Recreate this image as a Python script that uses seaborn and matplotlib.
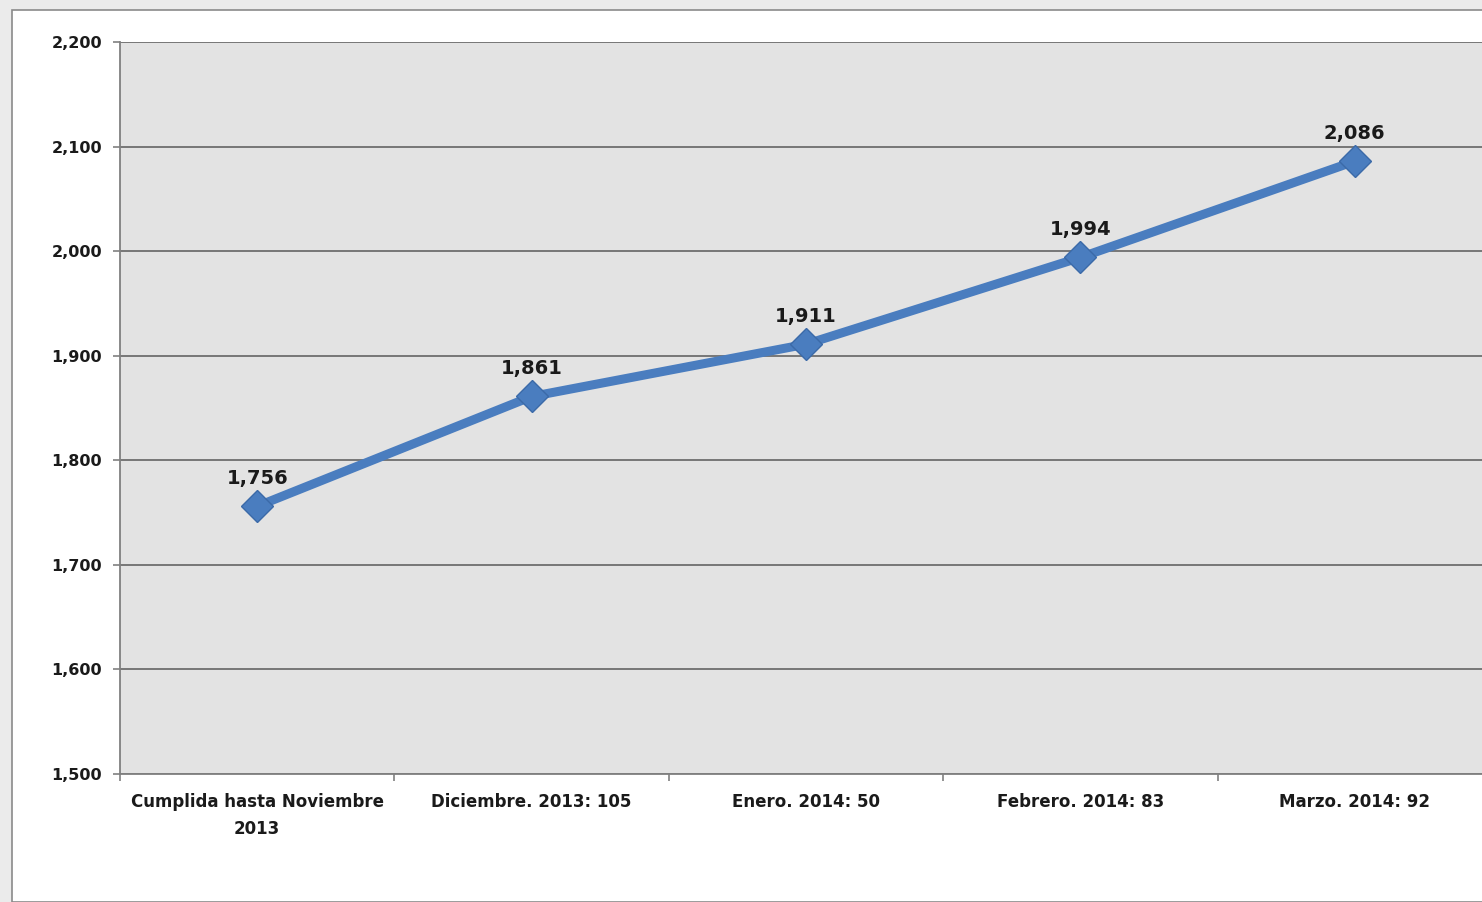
import matplotlib
matplotlib.use("Agg")
import matplotlib.pyplot as plt
from matplotlib.patches import Rectangle
from matplotlib.ticker import FixedLocator, FuncFormatter
import seaborn as sns
import pandas as pd

categories = [
    "Cumplida hasta Noviembre\n2013",
    "Diciembre. 2013: 105",
    "Enero. 2014: 50",
    "Febrero. 2014: 83",
    "Marzo. 2014: 92",
]
values = [1756, 1861, 1911, 1994, 2086]
y_ticks = [1500, 1600, 1700, 1800, 1900, 2000, 2100, 2200]

sns.set_theme(style="white")
plt.rcParams["font.family"] = ["DejaVu Sans"]

W, H = 1482, 902
fig = plt.figure(figsize=(W / 100, H / 100), dpi=100)
fig.patch.set_facecolor("#ebebeb")
fig.patches.append(Rectangle((12 / W, 0), 1, (H - 10) / H, transform=fig.transFigure,
                             facecolor="white", edgecolor="#8a8a8a", linewidth=1.2, zorder=-10))

ax = fig.add_axes([120 / W, 128 / H, (1492 - 120) / W, (774 - 42) / H])
ax.set_zorder(5)
ax.set_facecolor("#e3e3e3")

df = pd.DataFrame({"cat": categories, "val": values})
x = list(range(len(categories)))
sns.lineplot(x=x, y=df["val"], ax=ax, color="#4a7dbf", linewidth=6.5, marker="D",
             markersize=16, markeredgecolor="#3b6aa8", markeredgewidth=1, markerfacecolor="#4a7dbf",
             sort=False)

for xi, v in zip(x, values):
    ax.annotate(f"{v:,}", (xi, v), xytext=(0, 16), textcoords="offset points",
                ha="center", va="baseline", fontsize=14, fontweight="bold", color="#1a1a1a")

ax.set_xlim(-0.5, len(categories) - 0.5)
ax.set_ylim(1500, 2200)
ax.set_yticks(y_ticks)
ax.yaxis.set_major_formatter(FuncFormatter(lambda v, p: f"{int(v):,}"))
ax.set_xticks(x)
ax.set_xticklabels(categories, linespacing=1.6)
ax.xaxis.set_minor_locator(FixedLocator([i + 0.5 for i in range(-1, len(categories))]))
ax.tick_params(axis="x", which="major", length=0, pad=14, labelsize=12, labelcolor="#1a1a1a")
ax.tick_params(axis="x", which="minor", length=5, width=1.2, color="#808080", direction="out", bottom=True)
ax.tick_params(axis="y", which="major", length=5, width=1.2, color="#808080", direction="out",
               left=True, labelsize=11.5, labelcolor="#1a1a1a", pad=8)
for lab in ax.get_xticklabels() + ax.get_yticklabels():
    lab.set_fontweight("bold")

ax.grid(axis="y", color="#6e6e6e", linewidth=1.3)
ax.set_axisbelow(True)
for s in ["top", "right"]:
    ax.spines[s].set_visible(False)
ax.spines["left"].set_color("#808080")
ax.spines["left"].set_linewidth(1.3)
ax.spines["bottom"].set_color("#808080")
ax.spines["bottom"].set_linewidth(1.3)
ax.set_xlabel("")
ax.set_ylabel("")

fig.savefig("out.png", dpi=100)
